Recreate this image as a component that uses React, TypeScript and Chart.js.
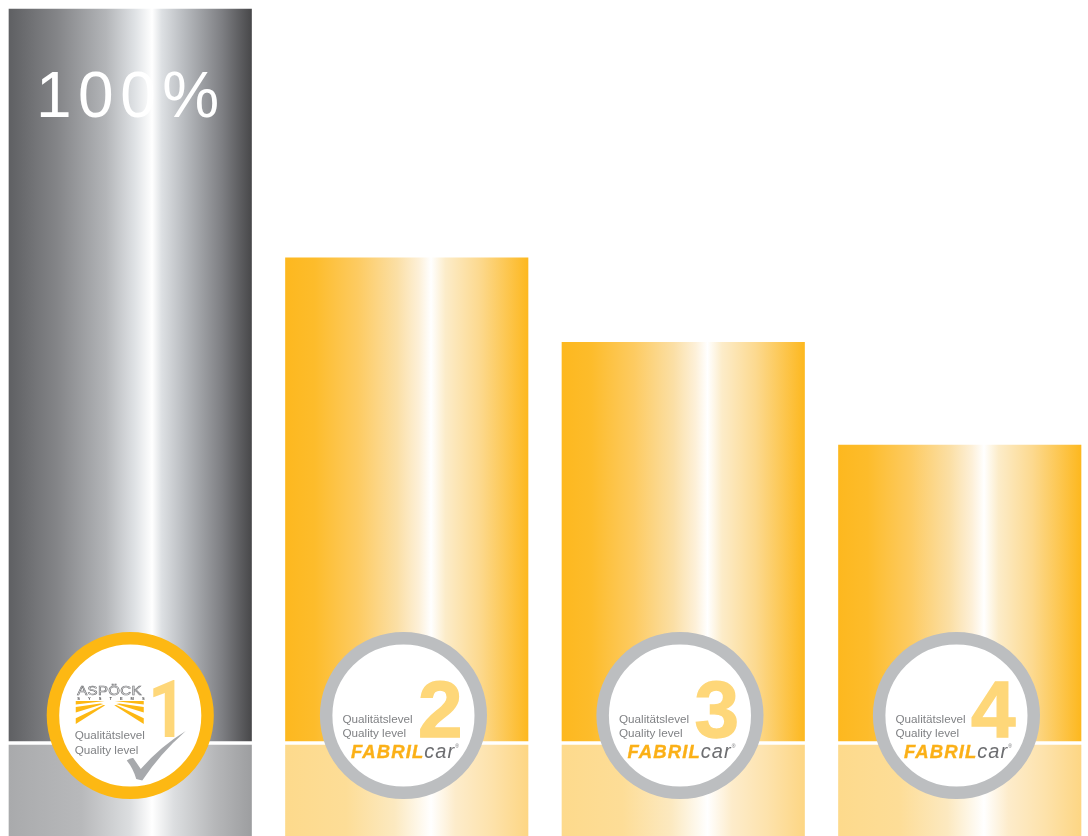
import React, { useEffect, useRef } from "react";
import { Chart, registerables } from "chart.js";

Chart.register(...registerables);

const categories = ["Qualitätslevel 1", "Qualitätslevel 2", "Qualitätslevel 3", "Qualitätslevel 4"];
const qualityPercent = [100, 66.1, 54.6, 40.6];
const reflectionDepth = [-12.67, -12.67, -12.67, -12.67];
const levelNumbers = ["1", "2", "3", "4"];
const captionDe = "Qualitätslevel";
const captionEn = "Quality level";
const supplierBrand = "FABRIL";
const supplierBrandTail = "car";
const ownBrand = "ASPÖCK";
const ownBrandSub = "SYSTEMS";
const peakLabel = "100%";

const GAP = 0.27;
const BAR_WIDTH = 242.5;

type Stop = [number, string];
const greyUpper: Stop[] = [[0, "#5f6063"], [0.2, "#848588"], [0.4, "#b3b5b8"], [0.52, "#dfe2e5"], [0.59, "#ffffff"], [0.63, "#dde0e3"], [0.72, "#b9bcc0"], [0.88, "#7d7e82"], [1, "#48484a"]];
const greyLower: Stop[] = [[0, "#a9aaac"], [0.3, "#b8b9bb"], [0.5, "#dcdee0"], [0.59, "#ffffff"], [0.68, "#dcdee0"], [0.85, "#b6b7b9"], [1, "#9d9ea0"]];
const amberUpper: Stop[] = [[0, "#fdb81f"], [0.12, "#fdbc2b"], [0.3, "#fdcb62"], [0.46, "#fbdfa5"], [0.55, "#fdf0d8"], [0.6, "#ffffff"], [0.66, "#fcecc9"], [0.8, "#fcd98f"], [1, "#fdb81f"]];
const amberLower: Stop[] = [[0, "#fdda8c"], [0.25, "#fddd97"], [0.45, "#fce9c0"], [0.6, "#ffffff"], [0.7, "#fdeccb"], [0.85, "#fde2ab"], [1, "#fdd684"]];

function barGradient(c: any, first: Stop[], rest: Stop[]) {
  const chart = c.chart;
  const area = chart.chartArea;
  const stops = c.dataIndex === 0 ? first : rest;
  if (!area || c.dataIndex === undefined) return stops[0][1];
  const mid = area.left + ((c.dataIndex + 0.5) * (area.right - area.left)) / categories.length;
  if (!Number.isFinite(mid)) return stops[0][1];
  const g = chart.ctx.createLinearGradient(mid - BAR_WIDTH / 2, 0, mid + BAR_WIDTH / 2, 0);
  stops.forEach(([p, col]) => g.addColorStop(p, col));
  return g;
}

function drawAspock(ctx: CanvasRenderingContext2D, cx: number, cy: number) {
  ctx.save();
  ctx.translate(cx, cy);
  ctx.save();
  ctx.translate(-53, -20.5);
  ctx.scale(1.2, 1);
  ctx.font = "12.5px 'Liberation Sans'";
  ctx.textAlign = "left";
  ctx.textBaseline = "alphabetic";
  ctx.lineWidth = 0.6;
  ctx.strokeStyle = "#6d6e71";
  (ctx as any).letterSpacing = "0.3px";
  ctx.strokeText(ownBrand, 0, 0);
  ctx.restore();
  ctx.font = "bold 4px 'Liberation Sans'";
  ctx.fillStyle = "#4d4d4f";
  (ctx as any).letterSpacing = "8.05px";
  ctx.textAlign = "left";
  ctx.fillText(ownBrandSub, -53, -15.5);
  (ctx as any).letterSpacing = "0px";
  ctx.fillStyle = "#fdb813";
  const bands = [
    [[-54.5, -14.5], [-25.5, -14.5], [-54.5, -11]],
    [[-54.5, -8.5], [-30, -12], [-27, -11.5], [-54.5, -3]],
    [[-54.5, 2.8], [-27, -10.5], [-25, -10.2], [-54.5, 8.5]],
  ];
  for (const side of [1, -1]) {
    for (const band of bands) {
      ctx.beginPath();
      band.forEach(([x, y], i) => {
        const px = side === 1 ? x : -41 - x;
        if (i === 0) ctx.moveTo(px, y);
        else ctx.lineTo(px, y);
      });
      ctx.closePath();
      ctx.fill();
    }
  }
  ctx.restore();
}

function drawCheck(ctx: CanvasRenderingContext2D, cx: number, cy: number) {
  ctx.save();
  ctx.translate(cx, cy);
  ctx.fillStyle = "#a7a9ac";
  ctx.beginPath();
  ctx.moveTo(-3.5, 45);
  ctx.quadraticCurveTo(0, 42, 3, 42.5);
  ctx.lineTo(10.5, 53.5);
  ctx.quadraticCurveTo(30, 31, 55.5, 15.5);
  ctx.quadraticCurveTo(30, 38, 12, 65);
  ctx.lineTo(6, 63.5);
  ctx.quadraticCurveTo(3, 53, -3.5, 45);
  ctx.closePath();
  ctx.fill();
  ctx.restore();
}

const badgePlugin = {
  id: "badges",
  afterDatasetsDraw(chart: any) {
    const { ctx, scales } = chart;
    const cy = 715.5;
    categories.forEach((_, i) => {
      const mid = scales.x.getPixelForValue(i);
      const cx = i === 0 ? mid : mid - 3.3;
      ctx.save();
      ctx.beginPath();
      ctx.arc(cx, cy, 77.3, 0, Math.PI * 2);
      ctx.fillStyle = "#ffffff";
      ctx.fill();
      ctx.lineWidth = 12.5;
      ctx.strokeStyle = i === 0 ? "#fdb813" : "#bcbec0";
      ctx.stroke();

      ctx.textAlign = "left";
      ctx.textBaseline = "alphabetic";
      ctx.fillStyle = "#fed779";
      ctx.strokeStyle = "#fed779";
      if (i === 0) {
        ctx.save();
        ctx.translate(cx + 56.5, cy + 21);
        ctx.scale(0.85, 1);
        ctx.font = "700 80px Roboto";
        ctx.textAlign = "right";
        ctx.fillText(levelNumbers[i], 0, 0);
        ctx.restore();
      } else {
        ctx.font = "bold 80px 'Liberation Sans'";
        ctx.lineWidth = 1.4;
        ctx.lineJoin = "miter";
        ctx.fillText(levelNumbers[i], cx + 14.5, cy + 21.5);
        ctx.strokeText(levelNumbers[i], cx + 14.5, cy + 21.5);
      }

      const tx = i === 0 ? cx - 55.5 : cx - 61;
      const ty = i === 0 ? cy + 23.5 : cy + 7.2;
      ctx.font = "11.7px 'Liberation Sans'";
      ctx.fillStyle = "#808285";
      ctx.fillText(captionDe, tx, ty);
      ctx.fillText(captionEn, tx, ty + 14.5);

      if (i === 0) {
        drawAspock(ctx, cx, cy);
        drawCheck(ctx, cx, cy);
      } else {
        ctx.font = "italic bold 18.5px 'Liberation Sans'";
        ctx.fillStyle = "#fbb017";
        ctx.strokeStyle = "#fbb017";
        ctx.lineWidth = 0.35;
        (ctx as any).letterSpacing = "1.1px";
        ctx.fillText(supplierBrand, cx - 52.5, cy + 42.5);
        ctx.strokeText(supplierBrand, cx - 52.5, cy + 42.5);
        const w = ctx.measureText(supplierBrand).width;
        ctx.font = "italic 20px 'Liberation Sans'";
        ctx.fillStyle = "#6d6e71";
        (ctx as any).letterSpacing = "1px";
        ctx.fillText(supplierBrandTail, cx - 52.5 + w, cy + 42.5);
        const w2 = ctx.measureText(supplierBrandTail).width;
        (ctx as any).letterSpacing = "0px";
        ctx.font = "5px 'Liberation Sans'";
        ctx.fillText("®", cx - 52.5 + w + w2, cy + 32);
      }
      ctx.restore();
    });

    ctx.save();
    ctx.font = "64px 'Liberation Sans'";
    ctx.fillStyle = "#ffffff";
    ctx.textAlign = "left";
    ctx.textBaseline = "alphabetic";
    (ctx as any).letterSpacing = "6.5px";
    ctx.fillText(peakLabel, 44, 116.5);
    ctx.restore();
  },
};

export default function App() {
  const ref = useRef<HTMLCanvasElement>(null);
  useEffect(() => {
    if (!ref.current) return;
    const chart = new Chart(ref.current, {
      type: "bar",
      data: {
        labels: categories,
        datasets: [
          {
            label: "Qualität",
            data: qualityPercent.map((v) => [GAP, v]) as any,
            backgroundColor: (c: any) => barGradient(c, greyUpper, amberUpper),
            borderWidth: 0,
            barThickness: BAR_WIDTH,
          },
          {
            label: "Sockel",
            data: reflectionDepth.map((v) => [v, -GAP]) as any,
            backgroundColor: (c: any) => barGradient(c, greyLower, amberLower),
            borderWidth: 0,
            barThickness: BAR_WIDTH,
          },
        ],
      },
      options: {
        responsive: false,
        animation: false,
        layout: { padding: 0 },
        plugins: { legend: { display: false }, title: { display: false }, tooltip: { enabled: false } },
        scales: {
          x: { display: false, stacked: true, offset: true },
          y: { display: false, min: -12.67, max: 101.23 },
        },
      },
      plugins: [badgePlugin],
    });
    return () => chart.destroy();
  }, []);
  return (
    <div style={{ position: "absolute", left: 0, top: 0, width: 1088, height: 836, overflow: "hidden", background: "#fff" }}>
      <canvas ref={ref} width={1106} height={836} style={{ position: "absolute", left: -8, top: 0, display: "block" }} />
    </div>
  );
}
